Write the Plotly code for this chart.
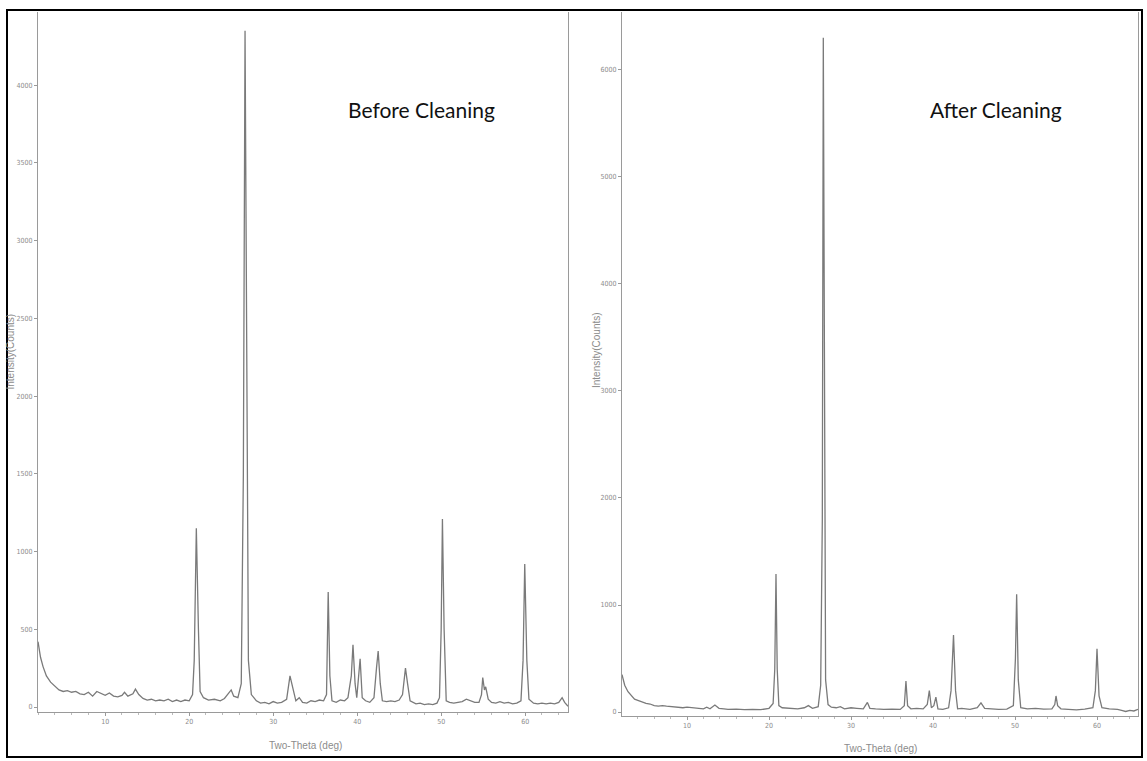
import plotly.graph_objects as go

W, H = 1147, 761

# ---- Data ----
before_tt = [2.0, 2.3, 2.6, 3.0, 3.5, 4.0, 4.5, 5.0, 5.5, 6.0, 6.5, 7.0, 7.5, 8.0, 8.5, 9.0, 9.5,
             10.0, 10.5, 11.0, 11.5, 12.0, 12.3, 12.7, 13.3, 13.6, 14.0, 14.5, 15.0, 15.5, 16.0,
             16.5, 17.0, 17.5, 18.0, 18.5, 19.0, 19.5, 20.0, 20.4, 20.6, 20.85, 21.1, 21.3, 21.7,
             22.3, 23.0, 23.7, 24.2, 24.7, 25.0, 25.3, 25.8, 26.2, 26.45, 26.65, 26.85, 27.05,
             27.4, 28.0, 28.5, 29.0, 29.5, 30.0, 30.5, 31.0, 31.6, 32.0, 32.35, 32.7, 33.1, 33.5,
             34.0, 34.5, 35.0, 35.5, 36.0, 36.35, 36.55, 36.75, 37.0, 37.5, 38.0, 38.5, 38.9,
             39.3, 39.5, 39.75, 39.95, 40.15, 40.35, 40.6, 41.0, 41.5, 42.0, 42.3, 42.5, 42.75,
             43.0, 43.5, 44.0, 44.5, 45.0, 45.4, 45.75, 46.0, 46.3, 47.0, 47.5, 48.0, 48.5, 49.0,
             49.5, 49.8, 50.0, 50.15, 50.35, 50.6, 51.0, 51.5, 52.0, 52.5, 53.0, 53.5, 54.0, 54.5,
             54.8, 54.95, 55.15, 55.3, 55.6, 56.0, 56.5, 57.0, 57.5, 58.0, 58.5, 59.0, 59.5,
             59.75, 59.95, 60.2, 60.45, 61.0, 61.5, 62.0, 62.5, 63.0, 63.5, 64.0, 64.4, 64.7, 65.1]
before_counts = [420, 320, 260, 200, 160, 135, 110, 100, 105, 95, 100, 85, 80, 95, 70, 100, 85,
                 75, 90, 70, 65, 75, 95, 70, 85, 115, 80, 55, 45, 50, 40,
                 45, 40, 50, 35, 45, 35, 45, 40, 80, 300, 1150, 500, 100, 60,
                 45, 50, 40, 55, 85, 110, 70, 60, 150, 1500, 4350, 2000, 300,
                 80, 40, 25, 30, 20, 35, 25, 30, 50, 200, 120, 40, 60, 30,
                 25, 40, 35, 45, 40, 80, 740, 200, 40, 30, 45, 40, 60,
                 200, 400, 150, 60, 200, 310, 60, 40, 30, 60, 250, 360, 150,
                 40, 35, 40, 35, 45, 80, 250, 150, 40, 20, 25, 15, 20, 15,
                 25, 60, 500, 1210, 500, 40, 30, 25, 30, 35, 50, 40, 30, 30,
                 80, 190, 110, 130, 50, 30, 25, 35, 25, 30, 20, 25, 40,
                 300, 920, 300, 50, 25, 20, 25, 20, 25, 20, 30, 60, 30, 5]

after_tt = [2.07, 2.4, 2.8, 3.2, 3.6, 4.0, 4.5, 5.0, 5.5, 6.0, 6.5, 7.0, 7.5, 8.0, 8.5, 9.0, 9.5,
            10.0, 10.5, 11.0, 11.5, 12.0, 12.4, 12.8, 13.4, 13.9, 14.5, 15.0, 16.0, 17.0, 18.0,
            19.0, 20.0, 20.5, 20.7, 20.85, 21.0, 21.2, 21.6, 22.5, 23.5, 24.3, 24.8, 25.3, 26.0,
            26.3, 26.5, 26.62, 26.75, 26.9, 27.2, 27.6, 28.2, 28.7, 29.2, 30.0, 30.7, 31.5, 32.0,
            32.3, 33.0, 34.0, 35.0, 36.0, 36.5, 36.7, 36.9, 37.3, 38.0, 38.8, 39.3, 39.55, 39.8,
            40.1, 40.35, 40.6, 41.2, 41.9, 42.2, 42.5, 42.75, 43.0, 43.5, 44.5, 45.4, 45.85,
            46.3, 47.0, 48.0, 49.0, 49.8, 50.05, 50.2, 50.4, 50.7, 51.5, 52.5, 53.5, 54.5,
            54.85, 55.0, 55.2, 55.6, 56.5, 57.5, 58.5, 59.5, 59.8, 60.0, 60.25, 60.6, 61.5,
            62.5, 63.0, 63.5, 64.0, 64.5, 65.0]
after_counts = [350, 250, 190, 150, 120, 110, 95, 80, 75, 60, 55, 60, 55, 50, 45, 45, 40,
                45, 40, 35, 30, 30, 45, 30, 65, 35, 30, 25, 28, 22, 25,
                22, 35, 80, 400, 1290, 400, 60, 40, 38, 30, 40, 60, 35, 50,
                250, 1800, 6300, 2500, 300, 70, 45, 40, 50, 30, 40, 35, 30, 90,
                35, 30, 25, 28, 25, 60, 290, 60, 30, 35, 30, 70, 200, 40,
                60, 140, 30, 25, 40, 200, 720, 200, 30, 35, 25, 40, 85,
                35, 30, 25, 28, 60, 500, 1100, 300, 40, 30, 35, 28, 30,
                70, 150, 60, 30, 25, 20, 28, 40, 200, 590, 150, 40, 30,
                25, 15, 5, 15, 10, 25]

before_yticks = [0, 500, 1000, 1500, 2000, 2500, 3000, 3500, 4000]
after_yticks = [0, 1000, 2000, 3000, 4000, 5000, 6000]
x_ticks = [10, 20, 30, 40, 50, 60]

# ---- Figure ----
def px_x(v):
    return v / W

def px_y(v):
    return 1 - v / H

line_col = "#7a7a7a"
axis_col = "#9a9a9a"
tick_font = dict(family="Liberation Sans Narrow, DejaVu Sans Condensed, Liberation Sans, sans-serif",
                 size=7, color="#8c8c8c")

fig = go.Figure()
fig.add_trace(go.Scatter(x=before_tt, y=before_counts, mode="lines",
                         line=dict(color=line_col, width=1.3), xaxis="x", yaxis="y",
                         showlegend=False, hoverinfo="skip"))
fig.add_trace(go.Scatter(x=after_tt, y=after_counts, mode="lines",
                         line=dict(color=line_col, width=1.3), xaxis="x2", yaxis="y2",
                         showlegend=False, hoverinfo="skip"))

common_x = dict(showgrid=False, zeroline=False, showline=True, linecolor=axis_col, linewidth=1,
                ticks="outside", ticklen=3, tickcolor=axis_col, tickfont=tick_font,
                tickvals=x_ticks, minor=dict(ticks="outside", ticklen=2, dtick=2, tickcolor="#bbbbbb"))
common_y = dict(showgrid=False, zeroline=False, showline=True, linecolor=axis_col, linewidth=1,
                mirror=True, ticks="outside", ticklen=3, tickcolor=axis_col, tickfont=tick_font)

fig.update_layout(
    width=W, height=H,
    margin=dict(l=0, r=0, t=0, b=0),
    paper_bgcolor="white", plot_bgcolor="white",
    xaxis=dict(domain=[px_x(38), px_x(568)], range=[2.0, 65.1], anchor="y", **common_x),
    yaxis=dict(domain=[px_y(712), px_y(12)], range=[-32, 4470], anchor="x",
               tickvals=before_yticks, **common_y),
    xaxis2=dict(domain=[px_x(622), px_x(1138)], range=[2.07, 65.0], anchor="y2", **common_x),
    yaxis2=dict(domain=[px_y(716), px_y(12)], range=[-37, 6540], anchor="x2",
                tickvals=after_yticks, **common_y),
)

ann_font = dict(family="Liberation Sans, Arial, sans-serif", size=10, color="#8c8c8c")
fig.add_annotation(text="Intensity(Counts)", x=px_x(9.5), y=px_y(352), xref="paper", yref="paper",
                   xanchor="center", yanchor="middle",
                   textangle=-90, showarrow=False, font=ann_font)
fig.add_annotation(text="Intensity(Counts)", x=px_x(597), y=px_y(350), xref="paper", yref="paper",
                   xanchor="center", yanchor="middle",
                   textangle=-90, showarrow=False, font=ann_font)
fig.add_annotation(text="Two-Theta (deg)", x=px_x(305), y=px_y(745), xref="paper", yref="paper",
                   xanchor="center", yanchor="middle", showarrow=False, font=ann_font)
fig.add_annotation(text="Two-Theta (deg)", x=px_x(880), y=px_y(748), xref="paper", yref="paper",
                   xanchor="center", yanchor="middle", showarrow=False, font=ann_font)

title_font = dict(family="Lato, Open Sans, sans-serif", size=21, color="#111111")
fig.add_annotation(text="Before Cleaning", x=px_x(421), y=px_y(110), xref="paper", yref="paper",
                   xanchor="center", yanchor="middle", showarrow=False, font=title_font)
fig.add_annotation(text="After Cleaning", x=px_x(996), y=px_y(110), xref="paper", yref="paper",
                   xanchor="center", yanchor="middle", showarrow=False, font=title_font)

# outer frame
fig.add_shape(type="rect", xref="paper", yref="paper",
              x0=px_x(7), x1=px_x(1142), y0=px_y(757), y1=px_y(10),
              line=dict(color="black", width=2), fillcolor="rgba(0,0,0,0)")

fig.write_html("out.html")
